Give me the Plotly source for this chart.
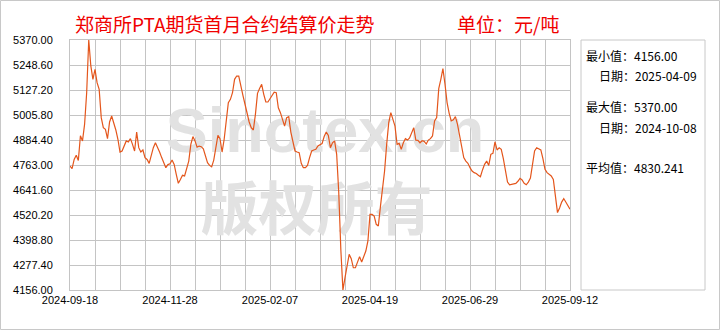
import plotly.graph_objects as go

title_text = "郑商所PTA期货首月合约结算价走势"
unit_text = "单位：元/吨"

x_tick_labels = ["2024-09-18", "2024-11-28", "2025-02-07", "2025-04-19", "2025-06-29", "2025-09-12"]
y_ticks = [4156.00, 4277.40, 4398.80, 4520.20, 4641.60, 4763.00, 4884.40, 5005.80, 5127.20, 5248.60, 5370.00]

prices = [
    4758, 4745, 4790, 4810, 4785, 4905, 4880, 4960, 5114, 5370,
    5244, 5179, 5227, 5163, 5130, 4993, 4944, 4936, 4891, 4972,
    5001, 4969, 4933, 4888, 4826, 4831, 4855, 4880, 4875, 4891,
    4863, 4831, 4923, 4847, 4826, 4836, 4799, 4790, 4771, 4810,
    4847, 4871, 4852, 4826, 4799, 4771, 4750, 4765, 4769, 4787,
    4766, 4718, 4674, 4693, 4713, 4710, 4750, 4782, 4863, 4901,
    4880, 4850, 4855, 4852, 4842, 4810, 4774, 4761, 4754, 4787,
    4859, 4907, 4891, 4826, 4888, 4969, 5066, 5082, 5114, 5179,
    5195, 5195, 5155, 5101, 5058, 5009, 4972, 4944, 4933, 5009,
    5111, 5134, 5155, 5106, 5069, 5069, 5085, 5106, 5117, 5114,
    5041, 5017, 4982, 4952, 4993, 4998, 4923, 4880, 4831, 4826,
    4823, 4771, 4750, 4750, 4761, 4799, 4831, 4836, 4839, 4855,
    4863, 4867, 4901, 4923, 4907, 4847, 4871, 4880, 4815, 4629,
    4353, 4156, 4216, 4273, 4329, 4308, 4264, 4264, 4289, 4318,
    4292, 4324, 4345, 4394, 4523, 4523, 4515, 4475, 4467, 4561,
    4645, 4734, 4863, 4969, 5017, 4982, 4952, 4863, 4868, 4839,
    4871, 4891, 4884, 4894, 4920, 4944, 4884, 4883, 4871, 4881,
    4878, 4865, 4884, 4891, 4904, 4977, 4993, 5134, 5179, 5231,
    5155, 5066, 5014, 4977, 4982, 4998, 4960, 4901, 4847, 4799,
    4782, 4771, 4750, 4734, 4726, 4722, 4713, 4706, 4739, 4766,
    4782, 4761, 4815, 4820, 4875, 4836, 4847, 4839, 4794, 4734,
    4680, 4667, 4669, 4674, 4674, 4684, 4698, 4690, 4674, 4667,
    4680, 4700, 4758, 4831, 4847, 4842, 4836, 4794, 4742, 4726,
    4716, 4710, 4693, 4596, 4532, 4554, 4583, 4600, 4583, 4567,
    4548,
]

stats_lines = [
    ("最小值：4156.00", 0),
    ("日期：2025-04-09", 1),
    ("最大值：5370.00", 0),
    ("日期：2024-10-08", 1),
    ("平均值：4830.241", 0),
]

n = len(prices)
idx = list(range(n))
last = n - 1
grid_step = last / 20
tickvals = [i * grid_step for i in range(21)]
ticktext = [x_tick_labels[i // 4] if i % 4 == 0 else "" for i in range(21)]

line_color = "#e4561c"
grid_color = "#c4c4c4"
wm_color = "#e2e2e2"
num_font = "Liberation Sans"
cjk_font = "Noto Sans CJK SC"
y_span = y_ticks[-1] - y_ticks[0]

fig = go.Figure()

# watermark (drawn first so the price line sits on top)
fig.add_trace(go.Scatter(
    x=[last * 0.51], y=[y_ticks[0] + y_span * 0.615],
    mode="text", text=["Sinotex.cn"], textposition="middle center",
    textfont=dict(family="Liberation Sans", size=63, color=wm_color, weight="bold"),
    hoverinfo="skip", showlegend=False,
))
fig.add_trace(go.Scatter(
    x=[last * 0.493], y=[y_ticks[0] + y_span * 0.298],
    mode="text", text=["版权所有"], textposition="middle center",
    textfont=dict(family=cjk_font, size=58, color=wm_color, weight="bold"),
    hoverinfo="skip", showlegend=False,
))

fig.add_trace(go.Scatter(
    x=idx, y=prices, mode="lines",
    line=dict(color=line_color, width=1.2),
    showlegend=False, hoverinfo="skip",
))

fig.update_layout(
    width=720, height=330,
    margin=dict(l=70, r=150, t=40, b=40),
    paper_bgcolor="white", plot_bgcolor="white",
    showlegend=False,
    xaxis=dict(
        range=[0, last], tickvals=tickvals, ticktext=ticktext,
        showgrid=True, gridcolor=grid_color, gridwidth=1,
        showline=True, linecolor=grid_color, linewidth=1, mirror=True,
        zeroline=False, ticks="", ticklabelstandoff=0,
        tickfont=dict(family=num_font, size=11, color="#000000"),
    ),
    yaxis=dict(
        range=[y_ticks[0], y_ticks[-1]], tickvals=y_ticks,
        ticktext=["%.2f" % v for v in y_ticks],
        showgrid=True, gridcolor=grid_color, gridwidth=1,
        showline=True, linecolor=grid_color, linewidth=1, mirror=True,
        zeroline=False, ticks="", ticklabelstandoff=14,
        tickfont=dict(family=num_font, size=11, color="#000000"),
    ),
)

W, H = 720, 330
pl, pr, pt, pb = 70, 570, 40, 290
def px(xp):
    return (xp - pl) / (pr - pl)
def py(yp):
    return (pb - yp) / (pb - pt)

shapes = [
    dict(type="rect", xref="paper", yref="paper",
         x0=px(0.5), x1=px(W - 0.5), y0=py(H - 0.5), y1=py(0.5),
         line=dict(color="#c8c8c8", width=1)),
    dict(type="rect", xref="paper", yref="paper",
         x0=px(581), x1=px(705), y0=py(290), y1=py(40),
         line=dict(color="#c8c8c8", width=1)),
]
fig.update_layout(shapes=shapes)

annotations = [
    dict(text=title_text, xref="paper", yref="paper", x=px(73), y=py(24),
         xanchor="left", yanchor="middle", showarrow=False,
         font=dict(family=cjk_font, size=19, color="#f00000")),
    dict(text=unit_text, xref="paper", yref="paper", x=px(455), y=py(24),
         xanchor="left", yanchor="middle", showarrow=False,
         font=dict(family=cjk_font, size=19, color="#f00000")),
]
ys = [56, 75, 106, 127, 167]
for (txt, indent), yp in zip(stats_lines, ys):
    annotations.append(dict(
        text=txt, xref="paper", yref="paper", x=px(584 + 13 * indent), y=py(yp),
        xanchor="left", yanchor="middle", showarrow=False,
        font=dict(family=cjk_font, size=12, color="#000000")))
fig.update_layout(annotations=annotations)

fig.write_html("out.html")
